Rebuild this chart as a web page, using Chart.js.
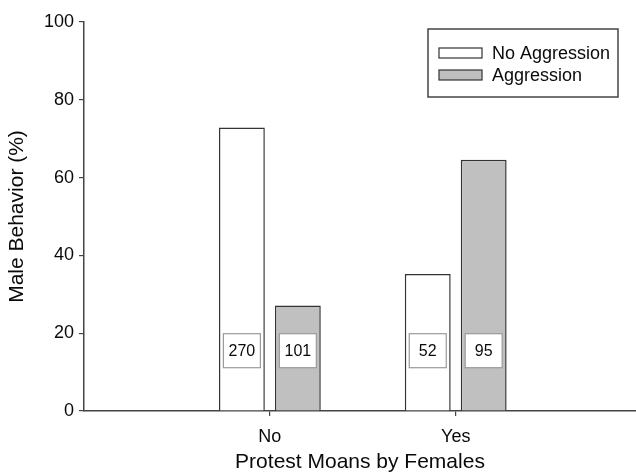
<!DOCTYPE html>
<html>
<head>
<meta charset="utf-8">
<script src="https://cdn.jsdelivr.net/npm/chart.js@4.4.0/dist/chart.umd.min.js"></script>
<style>
html,body{margin:0;padding:0;background:#fff;}
#wrap{width:636px;height:475px;position:relative;}
</style>
</head>
<body>
<div id="wrap"><canvas id="c"></canvas></div>
<script>
const categories = ['No', 'Yes'];
const categoryPositions = [1, 2];
const seriesNames = ['No Aggression', 'Aggression'];
const noAggressionValues = [72.9, 35.2];
const aggressionValues = [27.1, 64.6];
const noAggressionCounts = [270, 52];
const aggressionCounts = [101, 95];
const yTicks = [0, 20, 40, 60, 80, 100];
const countLabelLevel = 15.5;

const FONT = "'Liberation Sans', Arial, sans-serif";
const EDGE = '#333333';
const TEXT = '#0a0a0a';

const countLabels = {
  id: 'countLabels',
  afterDatasetsDraw(chart) {
    const ctx = chart.ctx;
    const y = chart.scales.y.getPixelForValue(countLabelLevel);
    chart.data.datasets.forEach((ds, di) => {
      const meta = chart.getDatasetMeta(di);
      meta.data.forEach((bar, i) => {
        const w = 37, h = 34;
        ctx.save();
        ctx.fillStyle = '#ffffff';
        ctx.strokeStyle = '#9a9a9a';
        ctx.lineWidth = 1.2;
        ctx.fillRect(bar.x - w/2, y - h/2, w, h);
        ctx.strokeRect(bar.x - w/2, y - h/2, w, h);
        ctx.fillStyle = TEXT;
        ctx.font = '16px ' + FONT;
        ctx.textAlign = 'center';
        ctx.textBaseline = 'middle';
        ctx.fillText(String(ds.counts[i]), bar.x, y + 1);
        ctx.restore();
      });
    });
  }
};

const boxLegend = {
  id: 'boxLegend',
  afterDraw(chart) {
    const ctx = chart.ctx;
    const x0 = 428, y0 = 29, w = 190, h = 68;
    ctx.save();
    ctx.strokeStyle = '#444';
    ctx.lineWidth = 1.5;
    ctx.strokeRect(x0, y0, w, h);
    ctx.font = '18px ' + FONT;
    ctx.textBaseline = 'middle';
    chart.data.datasets.forEach((ds, i) => {
      const cy = 53 + i * 22;
      ctx.fillStyle = ds.backgroundColor;
      ctx.fillRect(439, cy - 5, 43, 10);
      ctx.strokeStyle = EDGE;
      ctx.lineWidth = 1.2;
      ctx.strokeRect(439, cy - 5, 43, 10);
      ctx.fillStyle = TEXT;
      ctx.fillText(ds.label, 492, cy + 1);
    });
    ctx.restore();
  }
};

new Chart(document.getElementById('c'), {
  type: 'bar',
  data: {
    datasets: [
      {
        label: seriesNames[0],
        data: categoryPositions.map((x, i) => ({x: x, y: noAggressionValues[i]})),
        counts: noAggressionCounts,
        backgroundColor: '#ffffff',
        borderColor: EDGE,
        borderWidth: 1.5,
        borderSkipped: 'bottom'
      },
      {
        label: seriesNames[1],
        data: categoryPositions.map((x, i) => ({x: x, y: aggressionValues[i]})),
        counts: aggressionCounts,
        backgroundColor: '#c0c0c0',
        borderColor: EDGE,
        borderWidth: 1.5,
        borderSkipped: 'bottom'
      }
    ]
  },
  options: {
    responsive: true,
    maintainAspectRatio: false,
    animation: false,
    devicePixelRatio: 1,
    layout: { padding: { top: 22, right: 0, left: 0, bottom: 0 } },
    categoryPercentage: 0.602,
    barPercentage: 0.82,
    plugins: {
      legend: { display: false },
      tooltip: { enabled: false }
    },
    scales: {
      x: {
        type: 'linear',
        offset: false,
        min: 0,
        max: 2.97,
        afterBuildTicks(scale) {
          scale.ticks = categoryPositions.map(v => ({value: v}));
        },
        afterFit(scale) { scale.height = 64; },
        ticks: {
          autoSkip: false,
          maxRotation: 0,
          color: TEXT,
          font: { family: FONT, size: 18 },
          padding: 10,
          callback(value) {
            const idx = categoryPositions.indexOf(value);
            return idx >= 0 ? categories[idx] : '';
          }
        },
        grid: { display: true, offset: false, drawOnChartArea: false, drawTicks: true, tickLength: 5, color: '#444', lineWidth: 1.2 },
        border: { display: true, color: '#444', width: 1.5 },
        title: {
          display: true,
          text: 'Protest Moans by Females',
          color: TEXT,
          font: { family: FONT, size: 21 },
          padding: { top: 0, bottom: 0 }
        }
      },
      y: {
        min: 0,
        max: 100,
        afterBuildTicks(scale) {
          scale.ticks = yTicks.map(v => ({value: v}));
        },
        afterFit(scale) { scale.width = 84; },
        ticks: {
          color: TEXT,
          font: { family: FONT, size: 18 },
          padding: 5
        },
        grid: { display: true, drawOnChartArea: false, drawTicks: true, tickLength: 5, color: '#444', lineWidth: 1.2 },
        border: { display: true, color: '#444', width: 1.5 },
        title: {
          display: true,
          text: 'Male Behavior (%)',
          color: TEXT,
          font: { family: FONT, size: 21 },
          padding: { top: 5, bottom: 6 }
        }
      }
    }
  },
  plugins: [countLabels, boxLegend]
});
</script>
</body>
</html>
